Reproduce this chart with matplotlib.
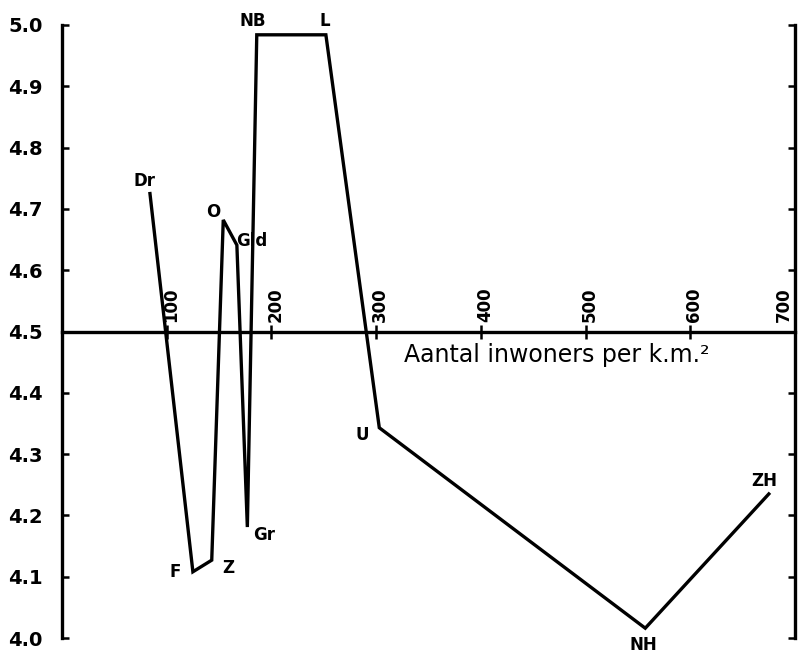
import matplotlib
matplotlib.use("Agg")
import matplotlib.pyplot as plt
import matplotlib.transforms as mtransforms

# Data (province: population density per km², value)
labels = ["Dr", "F", "Z", "O", "Gld", "Gr", "NB", "L", "U", "NH", "ZH"]
density = [84, 125, 143, 154, 167, 177, 186, 252, 303, 557, 675]
values = [4.725, 4.108, 4.127, 4.682, 4.641, 4.181, 4.984, 4.984, 4.343, 4.016, 4.235]

# label offsets (points) relative to each point
offsets = {
    "Dr": (-4, 9), "F": (-13, 0), "Z": (12, -6), "O": (-7, 6), "Gld": (11, 3),
    "Gr": (12, -6), "NB": (-3, 10), "L": (-1, 10), "U": (-12, -5),
    "NH": (-1, -12), "ZH": (-3, 9),
}

xticks = [100, 200, 300, 400, 500, 600, 700]
yticks = [4.0, 4.1, 4.2, 4.3, 4.4, 4.5, 4.6, 4.7, 4.8, 4.9, 5.0]
ytick_labels = ["4.0", "4.1", "4.2", "4.3", "4.4", "4.5", "4.6", "4.7", "4.8", "4.9", "5.0"]
xlabel = "Aantal inwoners per k.m.²"

fig = plt.figure(figsize=(7.99, 6.55), dpi=100)
ax = fig.add_axes([62 / 799, 17 / 655, 733 / 799, 613 / 655])
ax.set_xlim(0, 700)
ax.set_ylim(4.0, 5.0)

ax.plot(density, values, color="black", lw=2.4, solid_joinstyle="miter", clip_on=False)

for lab, x, y in zip(labels, density, values):
    ax.annotate(lab, (x, y), xytext=offsets[lab], textcoords="offset points",
                ha="center", va="center", fontsize=12, fontweight="bold")

# spines
ax.spines["bottom"].set_visible(False)
ax.spines["top"].set_position(("data", 4.5))
for s in ["left", "right", "top"]:
    ax.spines[s].set_linewidth(2.4)

ax.xaxis.set_ticks_position("top")
ax.set_xticks(xticks)
ax.set_xticklabels([str(v) for v in xticks], rotation=90, fontsize=12, fontweight="bold")
ax.tick_params(axis="x", direction="inout", length=10, width=1.8, pad=2)
xlabs = ax.get_xticklabels()
for i, t in enumerate(xlabs):
    dx = -8 / 72 if i == len(xlabs) - 1 else 3 / 72
    t.set_transform(t.get_transform() + mtransforms.ScaledTranslation(dx, 0, fig.dpi_scale_trans))

ax.set_yticks(yticks)
ax.set_yticklabels(ytick_labels, fontsize=14, fontweight="bold")
ax.yaxis.set_ticks_position("both")
ax.tick_params(axis="y", direction="in", length=5, width=1.8, pad=14)
ax.tick_params(axis="y", which="both", labelright=False)

ax.text(472, 4.462, xlabel, ha="center", va="center", fontsize=17)

fig.savefig("out.png", dpi=100)
